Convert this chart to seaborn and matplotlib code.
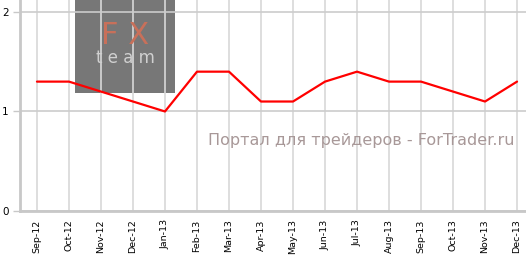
import matplotlib
matplotlib.use("Agg")
import matplotlib.pyplot as plt
import seaborn as sns
import pandas as pd
from matplotlib.patches import Rectangle

months = ["Sep-12", "Oct-12", "Nov-12", "Dec-12", "Jan-13", "Feb-13", "Mar-13", "Apr-13",
          "May-13", "Jun-13", "Jul-13", "Aug-13", "Sep-13", "Oct-13", "Nov-13", "Dec-13"]
values = [1.3, 1.3, 1.2, 1.1, 1.0, 1.4, 1.4, 1.1, 1.1, 1.3, 1.4, 1.3, 1.3, 1.2, 1.1, 1.3]
y_ticks = [0, 1, 2]

df = pd.DataFrame({"month": months, "value": values})

sns.set_theme(style="white")
plt.rcParams['font.family'] = ['DejaVu Sans']

fig = plt.figure(figsize=(5.26, 2.57), dpi=100)
ax = fig.add_axes([20/526, 1 - 211/257, 1 - 20/526, 211/257])

sns.lineplot(data=df, x="month", y="value", sort=False, color="#ff0000", linewidth=1.6, ax=ax, zorder=3)

ax.set_ylim(0, 2.12)
ax.set_xlim(-0.53, 15.28)
ax.set_yticks(y_ticks)
ax.set_yticklabels([str(t) for t in y_ticks], fontsize=7.5, color="#000000")
ax.set_xticks(range(len(months)))
ax.set_xticklabels(months, rotation=90, fontsize=6.8, color="#000000")
ax.set_xlabel("")
ax.set_ylabel("")

ax.set_axisbelow(True)
ax.grid(True, axis="y", color="#cccccc", linewidth=1.2)
ax.grid(True, axis="x", color="#d8d8d8", linewidth=1.2)

for s in ["top", "right"]:
    ax.spines[s].set_visible(False)
for s in ["left", "bottom"]:
    ax.spines[s].set_color("#c8c8c8")
    ax.spines[s].set_linewidth(2)

ax.tick_params(axis="y", length=5, width=1, color="#c8c8c8", pad=3, left=True)
ax.tick_params(axis="x", length=0, pad=6, bottom=False)

# logo box watermark
rect = Rectangle((75/526, 1 - 93/257), 100/526, 93/257, transform=fig.transFigure,
                 facecolor="#777777", edgecolor="none", zorder=0.2)
ax.add_patch(rect)
fig.text(125/526, 1 - 35/257, "F X", ha="center", va="center",
         fontsize=22, color="#c8705a", family=["DejaVu Sans"], zorder=5)
fig.text(125/526, 1 - 58/257, "t e a m", ha="center", va="center",
         fontsize=12, color="#d0d0d0", family=["DejaVu Sans"], zorder=5)

fig.text(515/526, 1 - 140/257, "Портал для трейдеров - ForTrader.ru",
         ha="right", va="center", fontsize=11.5, color="#a89898", zorder=5)

fig.savefig("out.png", dpi=100)
